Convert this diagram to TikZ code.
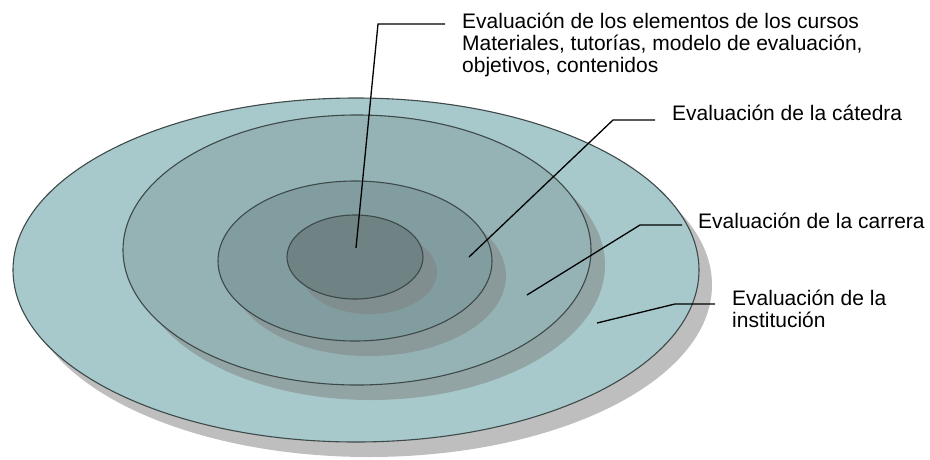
\documentclass[tikz,border=0pt]{standalone}
\usepackage{fontspec}
\setmainfont{Liberation Sans}
\definecolor{ringline}{HTML}{3E4949}
\definecolor{ringshadow}{HTML}{BEBEBE}
\definecolor{institucion}{HTML}{A8C9CB}
\definecolor{carrera}{HTML}{95B3B5}
\definecolor{catedra}{HTML}{829D9F}
\definecolor{cursos}{HTML}{6F8384}

\begin{document}
\begin{tikzpicture}[x=1pt,y=-1pt,
    ring/.style={draw=ringline,line width=1.1pt},
    ringshade/.style={fill=gray,fill opacity=.5},
    leader/.style={line width=1.3pt},
    lbl/.style={inner sep=0pt,anchor=base west,align=left,
                font=\fontsize{21}{22}\selectfont}]
                \useasboundingbox (0,0) rectangle (930,459);
                % rings with their shadows
                \fill [ringshadow] (369,285) ellipse [x radius=343, y radius=172];
                \draw [ring,fill=institucion] (356,270) ellipse [x radius=343, y radius=172];
                \fill [ringshade] (371,265) ellipse [x radius=234, y radius=135];
                \draw [ring,fill=carrera] (357,250) ellipse [x radius=234, y radius=135];
                \fill [ringshade] (369,276) ellipse [x radius=137, y radius=80];
                \draw [ring,fill=catedra] (355,261) ellipse [x radius=137, y radius=80];
                \fill [ringshade] (369,272) ellipse [x radius=68, y radius=42];
                \draw [ring,fill=cursos] (355,257) ellipse [x radius=68, y radius=42];
                % labels (base of a multi-line label is its last line)
                \node [lbl] (lcursos) at (462,72) {Evaluación de los elementos de los cursos\\Materiales, tutorías, modelo de evaluación,\\objetivos, contenidos};
                \node [lbl] (lcatedra) at (672,120) {Evaluación de la cátedra};
                \node [lbl] (lcarrera) at (698,228) {Evaluación de la carrera};
                \node [lbl] (linstitucion) at (732,327) {Evaluación de la\\institución};
                % leader lines
                \coordinate (pcursos) at (356,248);
                \coordinate (kcursos) at (378,24);
                \coordinate (pcatedra) at (469,257);
                \coordinate (kcatedra) at (613,120);
                \coordinate (pcarrera) at (527,295);
                \coordinate (kcarrera) at (640,225);
                \coordinate (pinstitucion) at (597,323);
                \coordinate (kinstitucion) at (675,304);
                \draw [leader] (pcursos) -- (kcursos) -- ([xshift=-17pt]kcursos -| lcursos.west);
                \draw [leader] (pcatedra) -- (kcatedra) -- ([xshift=-17pt]kcatedra -| lcatedra.west);
                \draw [leader] (pcarrera) -- (kcarrera) -- ([xshift=-16pt]kcarrera -| lcarrera.west);
                \draw [leader] (pinstitucion) -- (kinstitucion) -- ([xshift=-17pt]kinstitucion -| linstitucion.west);
\end{tikzpicture}
\end{document}
